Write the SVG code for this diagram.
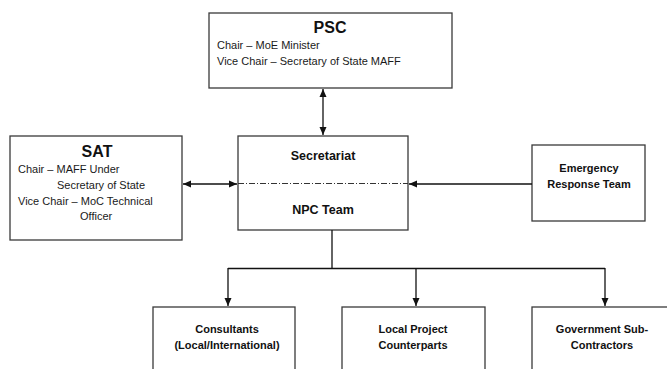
<svg xmlns="http://www.w3.org/2000/svg" width="667" height="369" viewBox="0 0 667 369">
<style>
.box{fill:#fff;stroke:#3a3a3a;stroke-width:1.3}
.t{font-family:"Liberation Sans",Arial,sans-serif;font-size:11px;fill:#1a1a1a}
.b{font-family:"Liberation Sans",Arial,sans-serif;font-weight:bold;fill:#111}
.c{text-anchor:middle}
.ln{stroke:#111;stroke-width:1.3;fill:none}
</style>
<defs>
<marker id="ah" viewBox="0 0 8 8" refX="8" refY="4" markerWidth="8" markerHeight="8" markerUnits="userSpaceOnUse" orient="auto-start-reverse">
<path d="M0,0.5 L8,4 L0,7.5 Z" fill="#111"/>
</marker>
</defs>
<rect width="667" height="369" fill="#fff"/>
<g id="PSC">
<rect class="box" x="209" y="13" width="243" height="75"/>
<text class="b c" x="330" y="33" font-size="16">PSC</text>
<text class="t" x="217" y="49">Chair – MoE Minister</text>
<text class="t" x="217" y="65">Vice Chair – Secretary of State MAFF</text>
</g>
<g id="SAT">
<rect class="box" x="10" y="136" width="172" height="104"/>
<text class="b c" x="97" y="157" font-size="16">SAT</text>
<text class="t" x="18" y="173">Chair – MAFF Under</text>
<text class="t" x="57" y="189">Secretary of State</text>
<text class="t" x="18" y="205">Vice Chair – MoC Technical</text>
<text class="t" x="80" y="220">Officer</text>
</g>
<g id="Secretariat">
<rect class="box" x="238" y="136" width="170" height="94"/>
<line x1="238" y1="183.5" x2="408" y2="183.5" stroke="#333" stroke-width="1" stroke-dasharray="6,2,1,2"/>
<text class="b c" x="323" y="160" font-size="12.5">Secretariat</text>
<text class="b c" x="323" y="214" font-size="12.5">NPC Team</text>
</g>
<g id="ERT">
<rect class="box" x="532" y="145" width="113" height="76"/>
<text class="b c" x="589" y="172" font-size="11">Emergency</text>
<text class="b c" x="589" y="188" font-size="11">Response Team</text>
</g>
<g id="Consultants">
<rect class="box" x="153" y="307" width="142" height="70"/>
<text class="b c" x="227" y="333" font-size="11">Consultants</text>
<text class="b c" x="227" y="349" font-size="11">(Local/International)</text>
</g>
<g id="LocalCounterparts">
<rect class="box" x="342" y="307" width="143" height="70"/>
<text class="b c" x="413" y="333" font-size="11">Local Project</text>
<text class="b c" x="413" y="349" font-size="11">Counterparts</text>
</g>
<g id="GovSubContractors">
<rect class="box" x="532" y="307" width="145" height="70"/>
<text class="b c" x="602" y="333" font-size="11">Government Sub-</text>
<text class="b c" x="602" y="349" font-size="11">Contractors</text>
</g>
<g id="connectors">
<line class="ln" x1="323" y1="89" x2="323" y2="135" marker-start="url(#ah)" marker-end="url(#ah)"/>
<line class="ln" x1="183" y1="184" x2="237" y2="184" marker-start="url(#ah)" marker-end="url(#ah)"/>
<line class="ln" x1="532" y1="184" x2="409" y2="184" marker-end="url(#ah)"/>
<polyline class="ln" points="332,230 332,268.5"/>
<polyline class="ln" points="228,268.5 605,268.5"/>
<line class="ln" x1="228" y1="268" x2="228" y2="306" marker-end="url(#ah)"/>
<line class="ln" x1="416" y1="268" x2="416" y2="306" marker-end="url(#ah)"/>
<line class="ln" x1="605" y1="268" x2="605" y2="306" marker-end="url(#ah)"/>
</g>
</svg>
